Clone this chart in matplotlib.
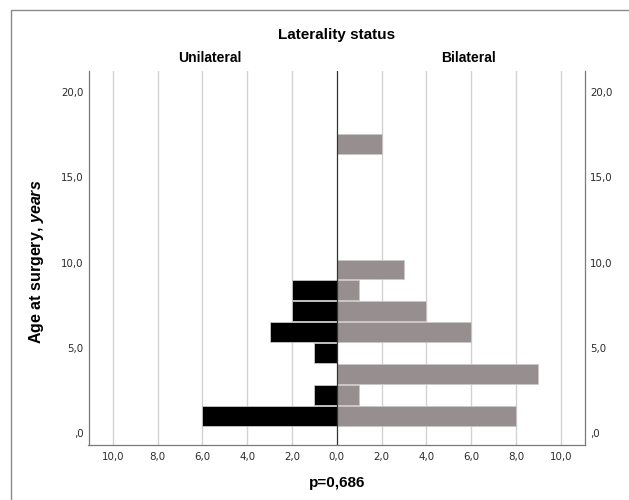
import matplotlib
matplotlib.use("Agg")
import matplotlib.pyplot as plt
from matplotlib.patches import Rectangle

plt.rcParams['font.family'] = ['Liberation Sans', 'DejaVu Sans']
plt.rcParams['mathtext.fontset'] = 'custom'
plt.rcParams['mathtext.it'] = 'Liberation Sans:italic:bold'
plt.rcParams['mathtext.rm'] = 'Liberation Sans:bold'

# ---- data ----
age_bin_centers = [1.0, 2.23, 3.46, 4.69, 5.92, 7.15, 8.37, 9.60, 16.98]
unilateral_counts = [6, 1, 0, 1, 3, 2, 2, 0, 0]
bilateral_counts = [8, 1, 9, 0, 6, 4, 1, 3, 2]
x_ticks = [-10, -8, -6, -4, -2, 0, 2, 4, 6, 8, 10]
x_tick_labels = ["10,0", "8,0", "6,0", "4,0", "2,0", "0,0", "2,0", "4,0", "6,0", "8,0", "10,0"]
y_ticks = [0, 5, 10, 15, 20]
y_tick_labels = [",0", "5,0", "10,0", "15,0", "20,0"]
title = "Laterality status"
left_label = "Unilateral"
right_label = "Bilateral"
y_label = r"Age at surgery,$\ \it{years}$"
p_text = "p=0,686"

W, H = 629, 500
fig = plt.figure(figsize=(W / 100, H / 100), dpi=100)

ax_left, ax_right, ax_top, ax_bottom = 88.5, 585, 71, 445
ax = fig.add_axes([ax_left / W, 1 - ax_bottom / H, (ax_right - ax_left) / W, (ax_bottom - ax_top) / H])

bar_h = 1.17
grey = "#978f8f"
edge = "#c9c6c6"
ax.barh(age_bin_centers, [-v for v in unilateral_counts], height=bar_h, color="black",
        edgecolor=edge, linewidth=0.6, zorder=3)
ax.barh(age_bin_centers, bilateral_counts, height=bar_h, color=grey,
        edgecolor=edge, linewidth=0.6, zorder=3)

for xv in x_ticks:
    if xv != 0:
        ax.axvline(xv, color="#d2d2d2", linewidth=1.0, zorder=1)
ax.axvline(0, color="#333333", linewidth=0.9, zorder=4)

ax.set_xlim(-11.08, 11.08)
ax.set_ylim(-0.70, 21.25)
ax.set_xticks(x_ticks)
ax.set_xticklabels(x_tick_labels, family="DejaVu Sans", fontsize=7.4, color="#2a2a2a")
ax.set_yticks(y_ticks)
ax.set_yticklabels(y_tick_labels, family="DejaVu Sans", fontsize=7.4, color="#2a2a2a")
ax.tick_params(axis="x", length=0, pad=5)
ax.tick_params(axis="y", length=0, pad=3.5, labelright=True)

for s in ["left", "right", "bottom"]:
    ax.spines[s].set_color("#7a7a7a")
    ax.spines[s].set_linewidth(0.9)
ax.spines["top"].set_visible(False)

# texts
fig.text(336.7 / W, 1 - 35 / H, title, ha="center", va="center", fontsize=11, fontweight="bold")
fig.text(210 / W, 1 - 58 / H, left_label, ha="center", va="center", fontsize=10, fontweight="bold")
fig.text(468 / W, 1 - 58 / H, right_label, ha="center", va="center", fontsize=10, fontweight="bold")
fig.text(36.5 / W, 1 - 261.5 / H, y_label, ha="center", va="center", rotation=90,
         fontsize=11.5, fontweight="bold")
fig.text(337.5 / W, 1 - 483 / H, p_text, ha="center", va="center", fontsize=11, fontweight="bold")

# outer frame
fig.patches.append(Rectangle((11 / W, -0.1), 1.2, 1.1 - 10 / H, transform=fig.transFigure,
                             fill=False, edgecolor="#8a8a8a", linewidth=1.0))

fig.savefig("out.png", dpi=100)
